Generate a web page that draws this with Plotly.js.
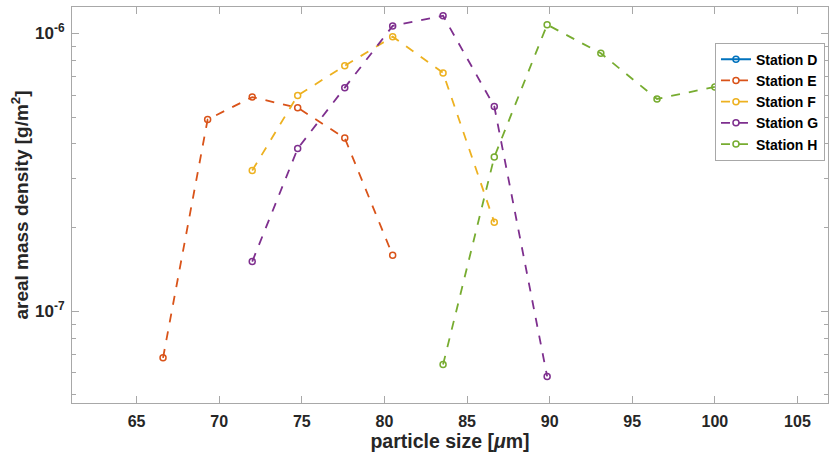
<!DOCTYPE html>
<html>
<head>
<meta charset="utf-8">
<script src="https://cdn.plot.ly/plotly-3.0.1.min.js"></script>
<style>html,body{margin:0;padding:0;background:#fff;}#chart{width:829px;height:454px;}</style>
</head>
<body>
<div id="chart"></div>
<script>
// Data
const stationNames = ['Station D', 'Station E', 'Station F', 'Station G', 'Station H'];
const stationColors = ['#0072BD', '#D95319', '#EDB120', '#7E2F8E', '#77AC30'];

const sizeD = [null];
const densD = [null];

const sizeE = [66.6, 69.3, 72.0, 74.75, 77.6, 80.5];
const densE = [6.8e-8, 4.9e-7, 5.9e-7, 5.4e-7, 4.2e-7, 1.59e-7];

const sizeF = [72.0, 74.75, 77.6, 80.5, 83.55, 86.65];
const densF = [3.21e-7, 5.98e-7, 7.65e-7, 9.73e-7, 7.21e-7, 2.09e-7];

const sizeG = [72.0, 74.75, 77.6, 80.5, 83.55, 86.65, 89.85];
const densG = [1.51e-7, 3.85e-7, 6.38e-7, 1.064e-6, 1.158e-6, 5.46e-7, 5.83e-8];

const sizeH = [83.55, 86.65, 89.85, 93.1, 96.5, 100.0];
const densH = [6.43e-8, 3.59e-7, 1.075e-6, 8.48e-7, 5.81e-7, 6.42e-7];

const xTickVals = [65, 70, 75, 80, 85, 90, 95, 100, 105];
const yTickVals = [1e-7, 1e-6];
const yTickText = ['10<sup>-7</sup>', '10<sup>-6</sup>'];
const yMinorVals = [5e-8, 6e-8, 7e-8, 8e-8, 9e-8, 2e-7, 3e-7, 4e-7, 5e-7, 6e-7, 7e-7, 8e-7, 9e-7];

const xs = [sizeD, sizeE, sizeF, sizeG, sizeH];
const ys = [densD, densE, densF, densG, densH];

const traces = stationNames.map((name, i) => ({
  type: 'scatter',
  mode: 'lines+markers',
  name: name,
  x: xs[i],
  y: ys[i],
  line: {color: stationColors[i], width: 1.8, dash: i === 0 ? 'solid' : 'dash'},
  marker: {symbol: 'circle-open', size: 6, color: stationColors[i], line: {width: 1.5, color: stationColors[i]}},
  showlegend: true
}));

const axisColor = '#a8a8a8';
const font = {family: 'Liberation Sans, Arial, sans-serif', color: '#262626'};

const layout = {
  width: 829,
  height: 454,
  margin: {l: 72, r: 1, t: 7, b: 51},
  paper_bgcolor: '#ffffff',
  plot_bgcolor: '#ffffff',
  font: font,
  showlegend: true,
  legend: {
    x: 0.996, y: 0.91, xanchor: 'right', yanchor: 'top',
    bgcolor: '#ffffff', bordercolor: '#a8a8a8', borderwidth: 1,
    font: {family: 'Liberation Sans, Arial, sans-serif', size: 14, color: '#000', weight: 'bold'},
    tracegroupgap: 0, itemwidth: 30
  },
  xaxis: {
    range: [61.09, 106.85],
    tickmode: 'array',
    tickvals: xTickVals,
    ticks: 'inside', ticklen: 7, tickcolor: axisColor, tickwidth: 1,
    showline: true, linecolor: axisColor, linewidth: 1, mirror: 'ticks',
    showgrid: false, zeroline: false,
    ticklabelstandoff: 4,
    tickfont: {size: 16, weight: 'bold', color: '#262626'},
    title: {text: 'particle size [<i>&mu;</i>m]', font: {size: 19.5, weight: 'bold', color: '#262626'}, standoff: 4}
  },
  yaxis: {
    type: 'log',
    range: [-7.33, -5.905],
    tickmode: 'array',
    tickvals: yTickVals,
    ticktext: yTickText,
    ticks: 'inside', ticklen: 7, tickcolor: axisColor, tickwidth: 1,
    minor: {tickmode: 'array', tickvals: yMinorVals, ticks: 'inside', ticklen: 4, tickcolor: axisColor, showgrid: false},
    showline: true, linecolor: axisColor, linewidth: 1, mirror: 'ticks',
    showgrid: false, zeroline: false,
    ticklabelstandoff: 3,
    tickfont: {size: 17, weight: 'bold', color: '#262626'},
    title: {text: 'areal mass density [g/m<sup>2</sup>]', font: {size: 19, weight: 'bold', color: '#262626'}, standoff: 1}
  }
};

Plotly.newPlot('chart', traces, layout, {displayModeBar: false, staticPlot: true});
</script>
</body>
</html>
